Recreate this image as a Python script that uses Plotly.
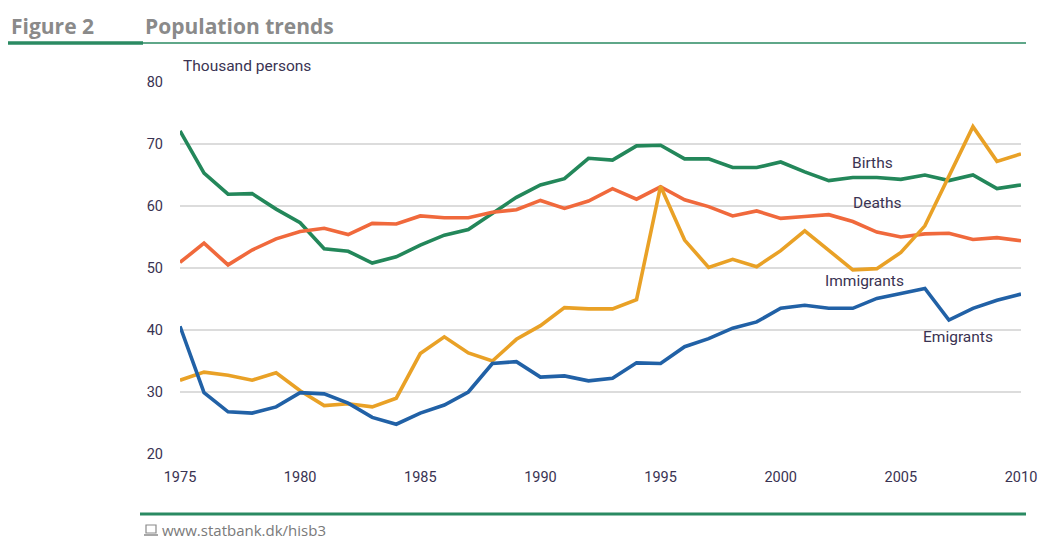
import plotly.graph_objects as go

years = list(range(1975, 2011))
births = [72.1, 65.3, 61.9, 62.0, 59.5, 57.3, 53.1, 52.7, 50.8, 51.8,
          53.7, 55.3, 56.2, 58.8, 61.4, 63.4, 64.4, 67.7, 67.4, 69.7,
          69.8, 67.6, 67.6, 66.2, 66.2, 67.1, 65.5, 64.1, 64.6, 64.6,
          64.3, 65.0, 64.1, 65.0, 62.8, 63.4]
deaths = [50.9, 54.0, 50.5, 52.9, 54.7, 55.9, 56.4, 55.4, 57.2, 57.1,
          58.4, 58.1, 58.1, 59.0, 59.4, 60.9, 59.6, 60.8, 62.8, 61.1,
          63.1, 61.0, 59.9, 58.4, 59.2, 58.0, 58.3, 58.6, 57.5, 55.8,
          55.0, 55.5, 55.6, 54.6, 54.9, 54.4]
immigrants = [31.9, 33.2, 32.7, 31.9, 33.1, 30.2, 27.8, 28.1, 27.6, 29.0,
              36.2, 38.9, 36.3, 35.0, 38.5, 40.7, 43.6, 43.4, 43.4, 44.9,
              63.2, 54.5, 50.1, 51.4, 50.2, 52.8, 56.0, 52.9, 49.7, 49.9,
              52.5, 56.8, 64.7, 72.8, 67.2, 68.4]
emigrants = [40.6, 29.9, 26.8, 26.6, 27.6, 29.9, 29.7, 28.2, 25.9, 24.8,
             26.6, 27.9, 30.0, 34.6, 34.9, 32.4, 32.6, 31.8, 32.2, 34.7,
             34.6, 37.3, 38.6, 40.3, 41.3, 43.5, 44.0, 43.5, 43.5, 45.1,
             45.9, 46.7, 41.6, 43.5, 44.8, 45.8]

series_names = ["Births", "Deaths", "Immigrants", "Emigrants"]
series_values = [births, deaths, immigrants, emigrants]
series_colors = ["#23875a", "#f0693c", "#e9a126", "#2161a6"]

x_ticks = [1975, 1980, 1985, 1990, 1995, 2000, 2005, 2010]
y_ticks = [20, 30, 40, 50, 60, 70, 80]

W, H = 1040, 539
L, R, T, B = 180, 1021, 82, 454
FONT = "Roboto"
TXT = "#3a3352"

def px(xpix):
    return (xpix - L) / (R - L)

def py(ypix):
    return (B - ypix) / (B - T)

# series label centres in pixels
label_px = [(872, 163), (877, 203), (864, 281), (958, 337)]

fig = go.Figure()
for name, vals, col in zip(series_names, series_values, series_colors):
    fig.add_trace(go.Scatter(x=years, y=vals, mode="lines", name=name,
                             line=dict(color=col, width=3.6),
                             hoverinfo="x+y+name"))

for name, (lx, ly) in zip(series_names, label_px):
    fig.add_annotation(x=px(lx), y=py(ly), xref="paper", yref="paper", text=name,
                       showarrow=False, xanchor="center", yanchor="middle",
                       font=dict(family=FONT, size=15.5, color=TXT))

# header
fig.add_annotation(x=px(9), y=py(26), xref="paper", yref="paper", text="<b>Figure 2</b>",
                   showarrow=False, xanchor="left", yanchor="middle",
                   font=dict(family="Open Sans", size=21, color="#8a8a8a"))
fig.add_annotation(x=px(143), y=py(26), xref="paper", yref="paper", text="<b>Population trends</b>",
                   showarrow=False, xanchor="left", yanchor="middle",
                   font=dict(family="Open Sans", size=21, color="#8a8a8a"))
fig.add_annotation(x=px(181), y=py(66), xref="paper", yref="paper", text="Thousand persons",
                   showarrow=False, xanchor="left", yanchor="middle",
                   font=dict(family=FONT, size=15.5, color=TXT))
# footer
fig.add_annotation(x=px(160), y=py(530), xref="paper", yref="paper", text="www.statbank.dk/hisb3",
                   showarrow=False, xanchor="left", yanchor="middle",
                   font=dict(family="Open Sans", size=15, color="#7a7a7a"))

shapes = [
    dict(type="line", xref="paper", yref="paper", x0=px(8), x1=px(143), y0=py(43), y1=py(43),
         line=dict(color="#2a8a62", width=3.5)),
    dict(type="line", xref="paper", yref="paper", x0=px(143), x1=px(1026), y0=py(43), y1=py(43),
         line=dict(color="#2a8a62", width=1.6)),
    dict(type="line", xref="paper", yref="paper", x0=px(140), x1=px(1026), y0=py(514), y1=py(514),
         line=dict(color="#2a8a62", width=3.2)),
    # small computer icon
    dict(type="rect", xref="paper", yref="paper", x0=px(146), x1=px(156), y0=py(533), y1=py(525),
         line=dict(color="#8a8a8a", width=1.2), fillcolor="rgba(0,0,0,0)"),
    dict(type="line", xref="paper", yref="paper", x0=px(144), x1=px(158), y0=py(535), y1=py(535),
         line=dict(color="#8a8a8a", width=1.5)),
]
fig.update_layout(shapes=shapes)

fig.update_layout(
    width=W, height=H, autosize=False,
    margin=dict(l=L, r=W - R, t=T, b=H - B, pad=0, autoexpand=False),
    paper_bgcolor="white", plot_bgcolor="white",
    showlegend=False,
    font=dict(family=FONT, color=TXT),
    xaxis=dict(range=[1975, 2010], tickvals=x_ticks, showgrid=False, zeroline=False,
               showline=False, tickfont=dict(family=FONT, size=14.5, color=TXT),
               ticks="", ticklabelstandoff=12, automargin=False),
    yaxis=dict(range=[20, 80], tickvals=y_ticks, showgrid=True, gridcolor="#dcdcdc",
               gridwidth=2, zeroline=False, showline=False,
               tickfont=dict(family=FONT, size=14.5, color=TXT),
               ticks="", ticklabelstandoff=16, automargin=False),
)

fig.write_html("out.html",
               config={"displayModeBar": False, "responsive": False},
               post_script="document.body.style.margin='0';document.body.style.overflow='hidden';")
